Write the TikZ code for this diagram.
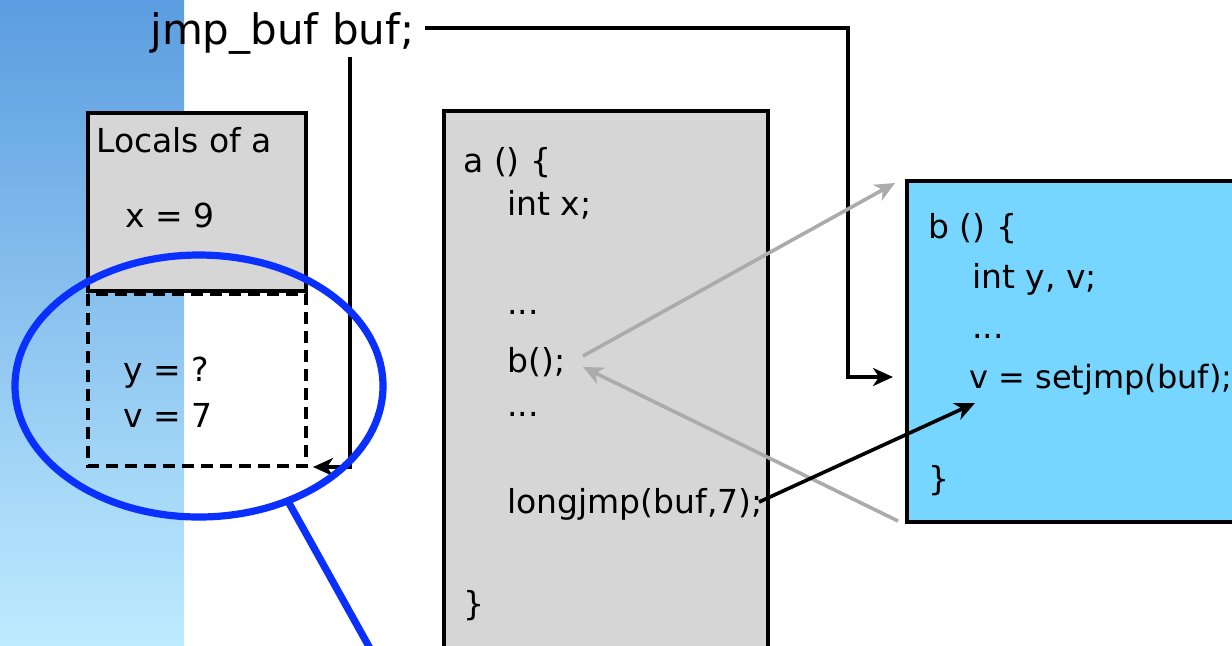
\documentclass[tikz,border=0pt]{standalone}
\usepackage{fontspec}
\setmainfont{DejaVu Sans}
\usetikzlibrary{arrows.meta}
\definecolor{stripTop}{HTML}{5B9DE0}
\definecolor{stripMid}{HTML}{82C4F8}
\definecolor{stripBot}{HTML}{BEEBFF}
\definecolor{boxGray}{HTML}{D6D6D6}
\definecolor{boxBlue}{HTML}{76D6FF}
\definecolor{arrowGray}{HTML}{ABABAB}
\definecolor{ringBlue}{HTML}{0A30FF}
\begin{document}
\begin{tikzpicture}[x=0.5pt,y=-0.5pt,
  txt/.style={anchor=base west, inner sep=0pt, font=\fontsize{16.5}{20}\selectfont},
  bigtxt/.style={anchor=base west, inner sep=0pt, font=\fontsize{21}{25}\selectfont},
  solidbox/.style={draw=black, line width=2pt},
  dashbox/.style={draw=black, line width=2pt, dash pattern=on 6pt off 3.5pt},
  conn/.style={draw=black, line width=1.8pt, -{Stealth[length=10pt,width=9pt,inset=3pt]}},
  grayarrow/.style={draw=arrowGray, line width=1.8pt, -{Stealth[length=10pt,width=9pt,inset=3pt]}},
  ring/.style={draw=ringBlue, line width=3.6pt},
]
\useasboundingbox (0,0) rectangle (1232,645);
\clip (0,0) rectangle (1232,645);
\shade[top color=stripTop, middle color=stripMid, bottom color=stripBot] (0,0) rectangle (184,645);

% boxes
\draw[solidbox, fill=boxGray] (88,113) rectangle (306,291);
\draw[dashbox] (88,294) rectangle (306,466);
\draw[solidbox, fill=boxGray] (444,111) rectangle (768,680);
\draw[solidbox, fill=boxBlue] (907,181) rectangle (1260,522);

% texts
\node[bigtxt] (buf) at (150,44) {jmp\_buf buf;};
\node[txt] (loc) at (96,152) {Locals of a};
\node[txt] (xv) at (125,227) {x = 9};
\node[txt] (yv) at (123,381) {y = ?};
\node[txt] (vv) at (123,427) {v = 7};

\node[txt] (a0) at (463,172) {a () \{};
\node[txt] (a1) at (507,215) {int x;};
\node[txt] (a2) at (507,314) {...};
\node[txt] (a3) at (507,372) {b();};
\node[txt] (a4) at (507,416) {...};
\node[txt] (a5) at (507,513) {longjmp(buf,7);};
\node[txt] (a6) at (463,615) {\}};

\node[txt] (b0) at (928,238) {b () \{};
\node[txt] (b1) at (972,288) {int y, v;};
\node[txt] (b2) at (972,338) {...};
\node[txt, font=\fontsize{16}{20}\selectfont] (b3) at (969,388) {v = setjmp(buf);};
\node[txt] (b4) at (928,490) {\}};

% connector coordinates
\coordinate (bufR) at (425,28);
\coordinate (bufTurn) at (848,377);
\coordinate (sjTip) at (893,377);
\coordinate (bufL) at (350,57);
\coordinate (bufLTurn) at (350,467);
\coordinate (frameTip) at (313,467);
\coordinate (callOut) at (583,356);
\coordinate (bTop) at (895,183);
\coordinate (bBot) at (898,521);
\coordinate (callIn) at (583,367);
\coordinate (ljOut) at (759,502);
\coordinate (sjIn) at (975,403);

\draw[conn] (bufR) -| (bufTurn) -- (sjTip);
\draw[conn] (bufL) -- (bufLTurn) -- (frameTip);
\draw[grayarrow] (callOut) -- (bTop);
\draw[grayarrow] (bBot) -- (callIn);
\draw[conn] (ljOut) -- (sjIn);

% magnifier ring
\draw[ring] (199,386) ellipse [x radius=184, y radius=131];
\coordinate (ringOut) at (289,503);
\coordinate (ringEnd) at (372,652);
\draw[ring] (ringOut) -- (ringEnd);
\end{tikzpicture}
\end{document}
